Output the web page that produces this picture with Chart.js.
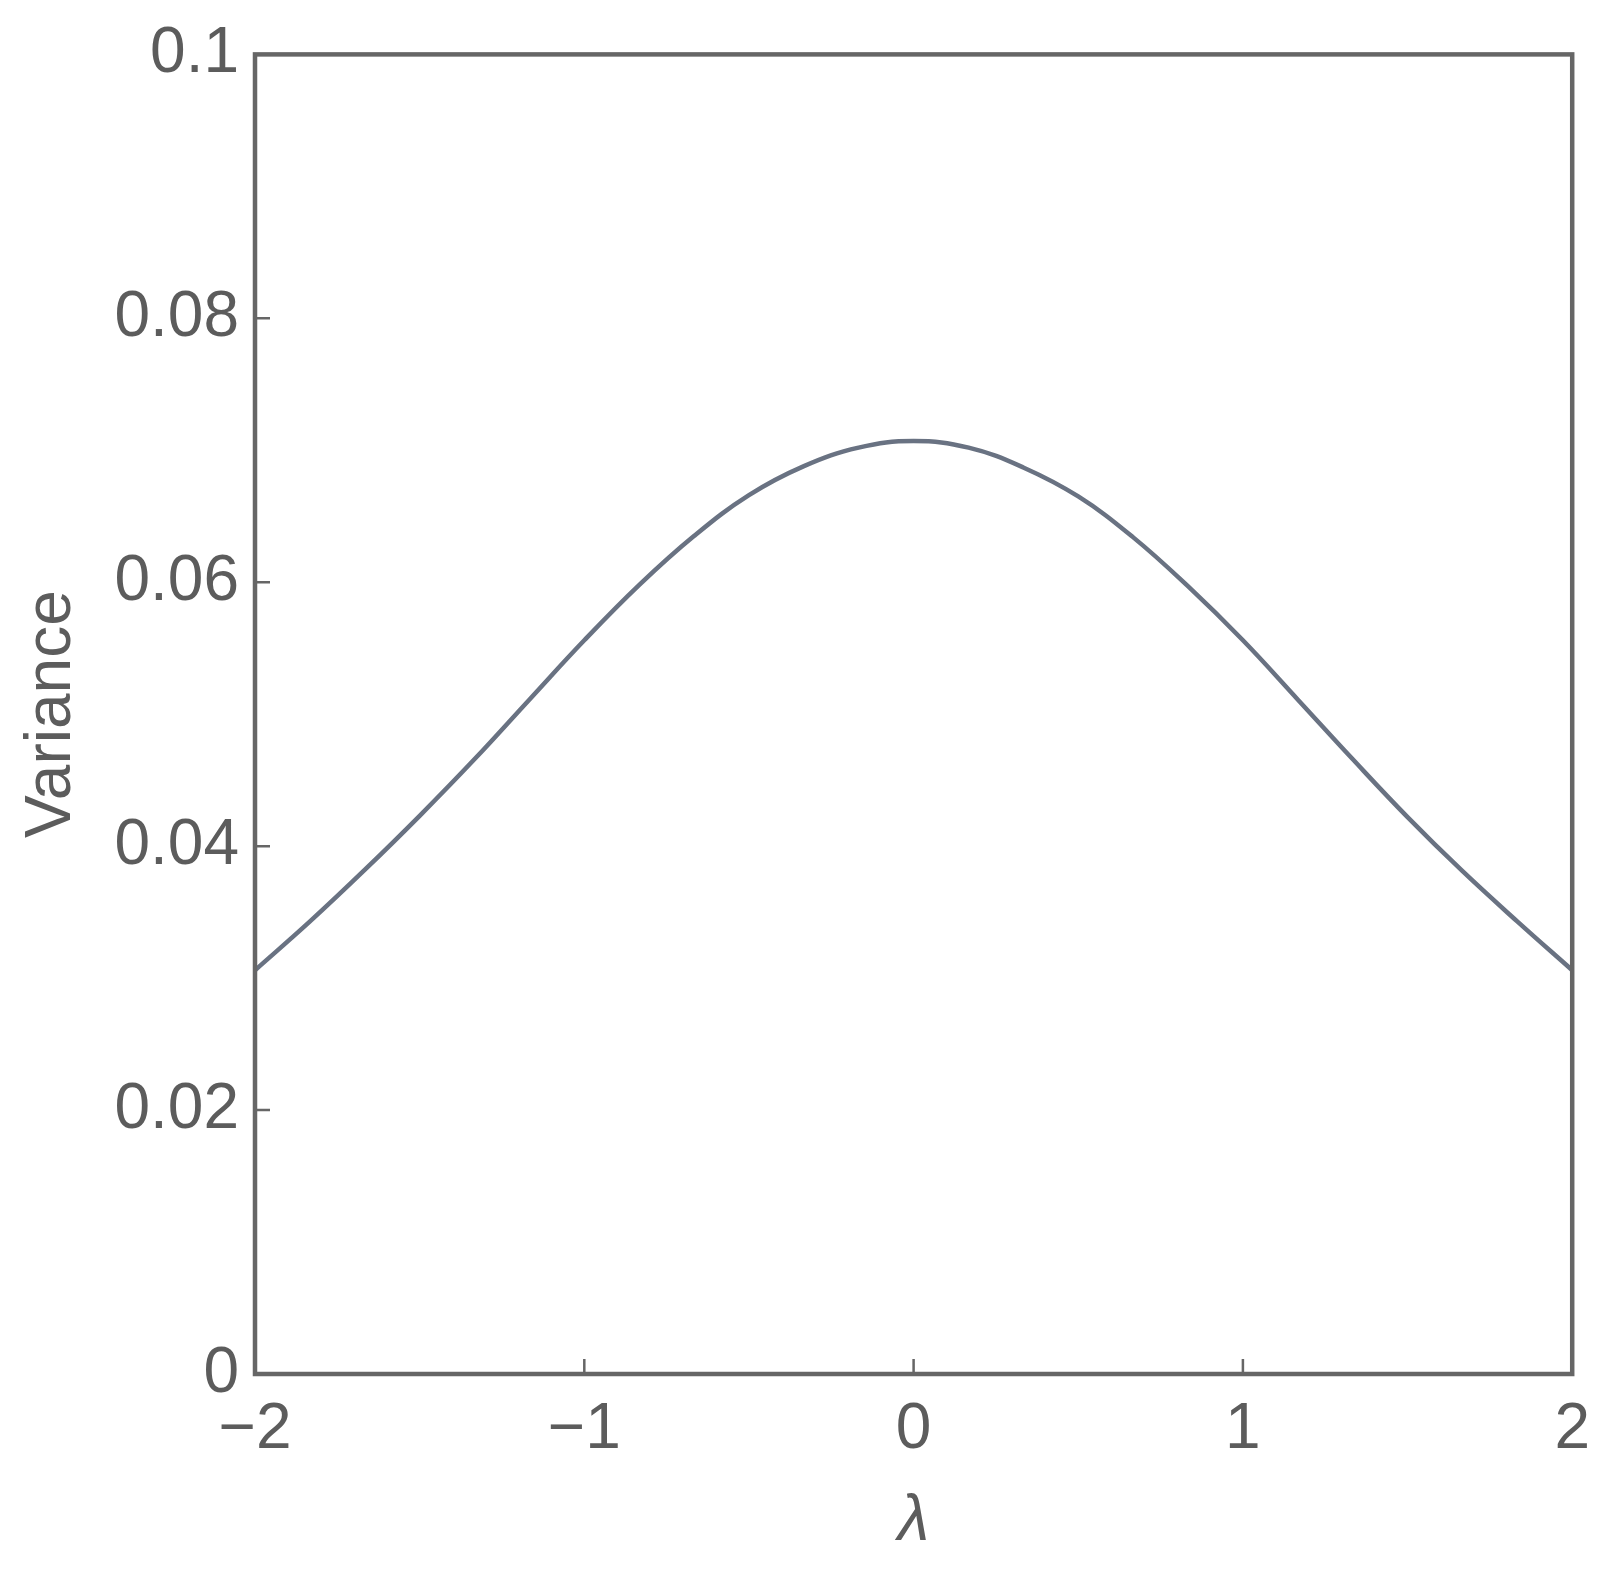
<!DOCTYPE html>
<html>
<head>
<meta charset="utf-8">
<script src="https://cdn.jsdelivr.net/npm/chart.js@4.4.1/dist/chart.umd.min.js"></script>
<style>
  html, body { margin: 0; padding: 0; background: #ffffff; }
  #wrap { width: 1608px; height: 1572px; position: relative; }
</style>
</head>
<body>
<div id="wrap"><canvas id="c" width="1608" height="1572"></canvas></div>
<script>
// ---- Data ----
const lambdaValues = [-2, -1.833, -1.667, -1.5, -1.333, -1.167, -1, -0.833, -0.667, -0.5, -0.333, -0.167, 0,
                      0.167, 0.333, 0.5, 0.667, 0.833, 1, 1.167, 1.333, 1.5, 1.667, 1.833, 2];
const varianceValues = [0.0306, 0.0343, 0.0382, 0.0423, 0.0466, 0.0511, 0.0556, 0.0598, 0.0635, 0.0666, 0.0688, 0.0702, 0.0707,
                        0.0702, 0.0687, 0.0665, 0.0634, 0.0597, 0.0556, 0.0511, 0.0466, 0.0422, 0.0381, 0.0343, 0.0306];
const xTickValues = [-2, -1, 0, 1, 2];
const xTickLabels = ['\u22122', '\u22121', '0', '1', '2'];
const yTickValues = [0, 0.02, 0.04, 0.06, 0.08, 0.1];
const yTickLabels = ['0', '0.02', '0.04', '0.06', '0.08', '0.1'];
const xTitle = '\u03bb';
const yTitle = 'Variance';

const FONT = "'Liberation Sans', Arial, sans-serif";
const TEXT_COLOR = '#5c5c5c';
const FRAME_COLOR = '#666666';

const framePlugin = {
  id: 'frameTicks',
  afterDatasetsDraw(chart) {
    const {ctx, chartArea: a, scales: {x, y}} = chart;
    ctx.save();
    ctx.strokeStyle = FRAME_COLOR;
    // inward ticks
    ctx.lineWidth = 2.5;
    ctx.beginPath();
    xTickValues.forEach(v => {
      const px = x.getPixelForValue(v);
      ctx.moveTo(px, a.bottom);
      ctx.lineTo(px, a.bottom - 15);
    });
    yTickValues.forEach(v => {
      const py = y.getPixelForValue(v);
      ctx.moveTo(a.left, py);
      ctx.lineTo(a.left + 15, py);
    });
    ctx.stroke();
    // frame
    ctx.lineWidth = 4.5;
    ctx.strokeRect(a.left, a.top, a.right - a.left, a.bottom - a.top);
    ctx.restore();
  }
};

new Chart(document.getElementById('c'), {
  type: 'line',
  data: {
    datasets: [{
      data: lambdaValues.map((l, i) => ({x: l, y: varianceValues[i]})),
      borderColor: '#697282',
      borderWidth: 4.5,
      pointRadius: 0,
      fill: false,
      tension: 0.4
    }]
  },
  options: {
    responsive: false,
    animation: false,
    devicePixelRatio: 1,
    layout: { padding: { left: 0, top: 53, right: 33, bottom: 0 } },
    plugins: { legend: { display: false }, tooltip: { enabled: false } },
    scales: {
      x: {
        type: 'linear',
        min: -2, max: 2,
        afterFit(s) { s.height = 198; },
        afterBuildTicks(s) { s.ticks = xTickValues.map(v => ({value: v})); },
        grid: { display: false, drawTicks: false },
        border: { display: false },
        ticks: {
          padding: 18,
          maxRotation: 0,
          autoSkip: false,
          color: TEXT_COLOR,
          font: { family: FONT, size: 64 },
          callback: (v) => { const i = xTickValues.indexOf(v); return i >= 0 ? xTickLabels[i] : ''; }
        },
        title: {
          display: true,
          text: xTitle,
          color: TEXT_COLOR,
          font: { family: FONT, size: 64, style: 'italic', lineHeight: 1 },
          padding: { top: 0, bottom: 18 }
        }
      },
      y: {
        type: 'linear',
        min: 0, max: 0.1,
        afterFit(s) { s.width = 255; },
        afterBuildTicks(s) { s.ticks = yTickValues.map(v => ({value: v})); },
        grid: { display: false, drawTicks: false },
        border: { display: false },
        ticks: {
          padding: 16,
          autoSkip: false,
          color: TEXT_COLOR,
          font: { family: FONT, size: 64 },
          callback: (v) => { const i = yTickValues.indexOf(v); return i >= 0 ? yTickLabels[i] : ''; }
        },
        title: {
          display: true,
          text: yTitle,
          color: TEXT_COLOR,
          font: { family: FONT, size: 64, lineHeight: 1 },
          padding: { top: 20, bottom: 0 }
        }
      }
    }
  },
  plugins: [framePlugin]
});
</script>
</body>
</html>
